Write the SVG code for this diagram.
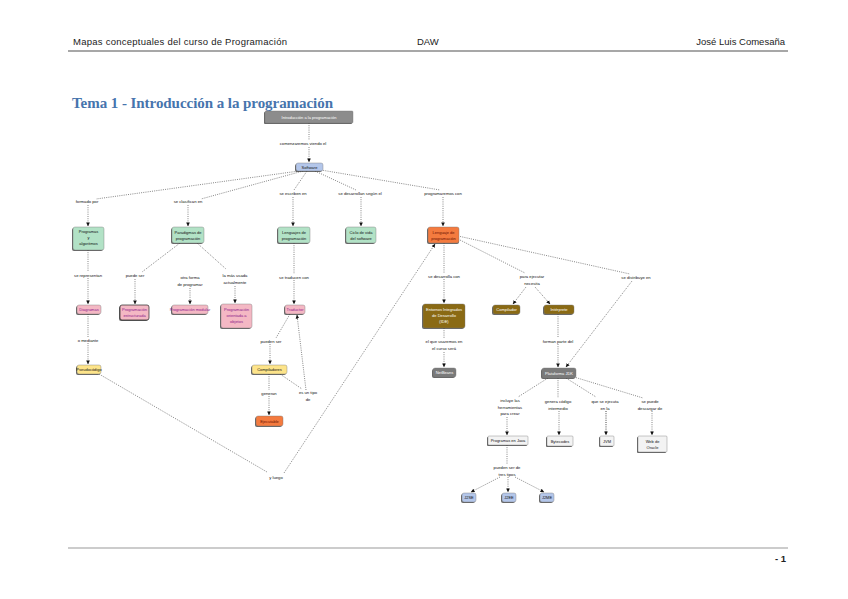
<svg xmlns="http://www.w3.org/2000/svg" width="848" height="599" viewBox="0 0 848 599">
<defs>
<marker id="a" markerWidth="4" markerHeight="4" refX="3.6" refY="2" orient="auto" markerUnits="userSpaceOnUse"><path d="M0,0.2 L4,2 L0,3.8z" fill="#111"/></marker>
<style>
.hd{font-family:"Liberation Sans",Arial,sans-serif;font-size:9.5px;fill:#222}
.tt{font-family:"Liberation Serif","Times New Roman",serif;font-size:15px;font-weight:bold;fill:#4674ad}
.sh{fill:#333;opacity:.75}
.n{stroke:#777;stroke-width:.4}
.gr{fill:#8c8c8c}.bl{fill:#b3c6ea}.gn{fill:#b2e2c6}.pk{fill:#f4b8c4}.yl{fill:#fde48a}.or{fill:#f47b3f}.br{fill:#8a6a14}.dg{fill:#7a7a7a}.wh{fill:#f3f3f3}
.t{font-family:"Liberation Sans",Arial,sans-serif;font-size:4px;text-anchor:middle;fill:#111}
.tw{fill:#fff}.tp{fill:#8b1a8b}.tr{fill:#6a1000}
.lb{font-family:"Liberation Sans",Arial,sans-serif;font-size:4.2px;text-anchor:middle;fill:#111}
.c line{stroke:#444;stroke-width:.65;stroke-dasharray:1 1.2;fill:none}
.c .ar{marker-end:url(#a)}
</style>
</defs>
<rect width="848" height="599" fill="#fff"/>
<g id="header">
<text class="hd" x="73" y="45" textLength="214">Mapas conceptuales del curso de Programación</text>
<text class="hd" x="417" y="45">DAW</text>
<text class="hd" x="785" y="45" text-anchor="end">José Luis Comesaña</text>
<line x1="68" y1="51" x2="788" y2="51" stroke="#8a8a8a" stroke-width="1.6"/>
</g>
<g id="footer">
<line x1="68" y1="548" x2="788" y2="548" stroke="#9a9a9a" stroke-width="1.2"/>
<text class="hd" x="786" y="562" text-anchor="end" font-weight="bold">- 1</text>
</g>
<text class="tt" x="72" y="108" textLength="261">Tema 1 - Introducción a la programación</text>

<g id="connectors" class="c">
<line x1="309" y1="123" x2="309" y2="140"/>
<line class="ar" x1="309" y1="147" x2="309" y2="162"/>
<line x1="299" y1="171" x2="96" y2="199"/>
<line x1="303" y1="171" x2="201" y2="199"/>
<line x1="307" y1="171" x2="294" y2="190"/>
<line x1="315" y1="171" x2="356" y2="190"/>
<line x1="321" y1="170" x2="440" y2="190"/>
<line class="ar" x1="88" y1="205" x2="88" y2="226"/>
<line class="ar" x1="188" y1="205" x2="188" y2="226"/>
<line class="ar" x1="293" y1="197" x2="293" y2="226"/>
<line class="ar" x1="361" y1="197" x2="361" y2="226"/>
<line class="ar" x1="443" y1="197" x2="443" y2="226"/>
<line x1="88" y1="250" x2="88" y2="272"/>
<line class="ar" x1="88" y1="278" x2="88" y2="304"/>
<line x1="88" y1="314" x2="88" y2="337"/>
<line class="ar" x1="88" y1="343" x2="88" y2="364"/>
<line x1="180" y1="243" x2="142" y2="272"/>
<line x1="197" y1="243" x2="226" y2="269"/>
<line class="ar" x1="135" y1="279" x2="135" y2="304"/>
<line class="ar" x1="190" y1="288" x2="190" y2="304"/>
<line class="ar" x1="235" y1="286" x2="235" y2="303"/>
<line x1="294" y1="243" x2="294" y2="274"/>
<line class="ar" x1="294" y1="280" x2="294" y2="304"/>
<line x1="290" y1="314" x2="276" y2="338"/>
<line class="ar" x1="270" y1="344" x2="270" y2="364"/>
<line x1="269" y1="374" x2="269" y2="390"/>
<line class="ar" x1="269" y1="396" x2="269" y2="415"/>
<line x1="280" y1="374" x2="302" y2="389"/>
<line class="ar" x1="306" y1="390" x2="297" y2="315"/>
<line x1="99" y1="374" x2="267" y2="472"/>
<line class="ar" x1="284" y1="473" x2="435" y2="244"/>
<line x1="444" y1="243" x2="444" y2="273"/>
<line class="ar" x1="444" y1="279" x2="444" y2="303"/>
<line x1="444" y1="328" x2="444" y2="339"/>
<line class="ar" x1="444" y1="352" x2="444" y2="367"/>
<line x1="458" y1="239" x2="525" y2="273"/>
<line class="ar" x1="526" y1="287" x2="513" y2="304"/>
<line class="ar" x1="535" y1="287" x2="550" y2="304"/>
<line x1="458" y1="236" x2="630" y2="274"/>
<line class="ar" x1="632" y1="281" x2="566" y2="367"/>
<line x1="558" y1="314" x2="558" y2="338"/>
<line class="ar" x1="558" y1="344" x2="558" y2="367"/>
<line x1="548" y1="378" x2="518" y2="397"/>
<line x1="558" y1="378" x2="558" y2="398"/>
<line x1="566" y1="378" x2="596" y2="397"/>
<line x1="574" y1="377" x2="643" y2="398"/>
<line class="ar" x1="507" y1="417" x2="507" y2="435"/>
<line class="ar" x1="559" y1="411" x2="559" y2="435"/>
<line class="ar" x1="606" y1="411" x2="606" y2="435" style="stroke-width:1"/>
<line class="ar" x1="652" y1="411" x2="652" y2="435"/>
<line x1="507" y1="445" x2="507" y2="464"/>
<line class="ar" x1="500" y1="477" x2="471" y2="492"/>
<line class="ar" x1="508" y1="477" x2="508" y2="492"/>
<line class="ar" x1="515" y1="477" x2="544" y2="492"/>
</g>

<g id="labels">
<text class="lb" x="303" y="145">comenzaremos viendo el</text>
<text class="lb" x="87" y="203">formado por</text>
<text class="lb" x="188" y="203">se clasifican en</text>
<text class="lb" x="293" y="195">se escriben en</text>
<text class="lb" x="360" y="195">se desarrollan según el</text>
<text class="lb" x="443" y="195">programaremos con</text>
<text class="lb" x="88" y="277">se representan</text>
<text class="lb" x="88" y="342">o mediante</text>
<text class="lb" x="135" y="277">puede ser</text>
<text class="lb" x="190" y="279">otra forma<tspan x="190" dy="7">de programar</tspan></text>
<text class="lb" x="235" y="277">la más usada<tspan x="235" dy="7">actualmente</tspan></text>
<text class="lb" x="294" y="279">se traducen con</text>
<text class="lb" x="271" y="343">pueden ser</text>
<text class="lb" x="269" y="395">generan</text>
<text class="lb" x="308" y="394">es un tipo<tspan x="308" dy="7">de</tspan></text>
<text class="lb" x="276" y="479">y luego</text>
<text class="lb" x="444" y="278">se desarrolla con</text>
<text class="lb" x="444" y="343">el que usaremos en<tspan x="444" dy="7">el curso será</tspan></text>
<text class="lb" x="532" y="278">para ejecutar<tspan x="532" dy="7">necesita</tspan></text>
<text class="lb" x="636" y="279">se distribuye en</text>
<text class="lb" x="558" y="343">forman parte del</text>
<text class="lb" x="510" y="402">incluye las<tspan x="510" dy="6.5">herramientas</tspan><tspan x="510" dy="6.5">para crear</tspan></text>
<text class="lb" x="558" y="403">genera código<tspan x="558" dy="7">intermedio</tspan></text>
<text class="lb" x="605" y="403">que se ejecuta<tspan x="605" dy="7">en la</tspan></text>
<text class="lb" x="650" y="403">se puede<tspan x="650" dy="7">descargar de</tspan></text>
<text class="lb" x="507" y="469">pueden ser de<tspan x="507" dy="7">tres tipos</tspan></text>
</g>

<g id="n-intro"><rect class="sh" x="264" y="112" width="88" height="12" rx="1"/><rect class="n gr" x="265" y="111" width="88" height="12" rx="1"/><text class="t tw" x="309" y="118.5">Introducción a la programación</text></g>
<g id="n-software"><rect class="sh" x="295" y="164" width="27" height="8" rx="2"/><rect class="n bl" x="296" y="163" width="27" height="8" rx="2"/><text class="t" x="309.5" y="168.5">Software</text></g>
<g id="n-programas"><rect class="sh" x="72" y="228" width="31" height="23" rx="2"/><rect class="n gn" x="73" y="227" width="31" height="23" rx="2"/><text class="t" x="88.5" y="233">Programas<tspan x="88.5" dy="6">y</tspan><tspan x="88.5" dy="6">algoritmos</tspan></text></g>
<g id="n-paradigmas"><rect class="sh" x="171" y="228" width="32" height="16" rx="2"/><rect class="n gn" x="172" y="227" width="32" height="16" rx="2"/><text class="t" x="188" y="233.5">Paradigmas de<tspan x="188" dy="6">programación</tspan></text></g>
<g id="n-lenguajes"><rect class="sh" x="277" y="228" width="32" height="16" rx="2"/><rect class="n gn" x="278" y="227" width="32" height="16" rx="2"/><text class="t" x="294" y="233.5">Lenguajes de<tspan x="294" dy="6">programación</tspan></text></g>
<g id="n-ciclo"><rect class="sh" x="345" y="228" width="30" height="16" rx="2"/><rect class="n gn" x="346" y="227" width="30" height="16" rx="2"/><text class="t" x="361" y="233.5">Ciclo de vida<tspan x="361" dy="6">del software</tspan></text></g>
<g id="n-java"><rect class="sh" x="427" y="228" width="32" height="16" rx="2"/><rect class="n or" x="428" y="227" width="31" height="16" rx="2"/><text class="t tr" x="443.5" y="233.5">Lenguaje de<tspan x="443.5" dy="6">programación</tspan></text></g>

<g id="n-diagramas"><rect class="sh" x="76" y="306" width="24" height="9" rx="2"/><rect class="n pk" x="77" y="305" width="24" height="9" rx="2"/><text class="t tp" x="89" y="311">Diagramas</text></g>
<g id="n-estructurada"><rect class="sh" x="119" y="306" width="29" height="15" rx="2"/><rect class="n pk" x="120" y="305" width="29" height="15" rx="2" style="stroke:#222;stroke-width:.7"/><text class="t tp" x="134.5" y="311">Programación<tspan x="134.5" dy="6">estructurada</tspan></text></g>
<g id="n-modular"><rect class="sh" x="171" y="306" width="36" height="9" rx="2"/><rect class="n pk" x="172" y="305" width="36" height="9" rx="2"/><text class="t tp" x="190" y="311">Programación modular</text></g>
<g id="n-poo"><rect class="sh" x="220" y="305" width="31" height="24" rx="2"/><rect class="n pk" x="221" y="304" width="31" height="24" rx="2"/><text class="t tp" x="236.5" y="311">Programación<tspan x="236.5" dy="6">orientada a</tspan><tspan x="236.5" dy="6">objetos</tspan></text></g>
<g id="n-traductor"><rect class="sh" x="284" y="306" width="20" height="9" rx="2"/><rect class="n pk" x="285" y="305" width="20" height="9" rx="2"/><text class="t tp" x="295" y="311">Traductor</text></g>

<g id="n-pseudo"><rect class="sh" x="76" y="366" width="24" height="9" rx="2"/><rect class="n yl" x="77" y="365" width="24" height="9" rx="2"/><text class="t" x="89" y="371">Pseudocódigo</text></g>
<g id="n-compiladores"><rect class="sh" x="251" y="366" width="35" height="9" rx="2"/><rect class="n yl" x="252" y="365" width="35" height="9" rx="2"/><text class="t" x="269.5" y="371">Compiladores</text></g>
<g id="n-ejecutable"><rect class="sh" x="255" y="417" width="27" height="10" rx="2"/><rect class="n or" x="256" y="416" width="27" height="10" rx="2"/><text class="t tr" x="269.5" y="422.5">Ejecutable</text></g>

<g id="n-ide"><rect class="sh" x="422" y="305" width="42" height="24" rx="2"/><rect class="n br" x="423" y="304" width="42" height="24" rx="2"/><text class="t tw" x="444" y="311">Entornos Integrados<tspan x="444" dy="6">de Desarrollo</tspan><tspan x="444" dy="6">(IDE)</tspan></text></g>
<g id="n-compilador"><rect class="sh" x="492" y="306" width="27" height="9" rx="2"/><rect class="n br" x="493" y="305" width="27" height="9" rx="2"/><text class="t tw" x="506.5" y="311">Compilador</text></g>
<g id="n-interprete"><rect class="sh" x="543" y="306" width="30" height="9" rx="2"/><rect class="n br" x="544" y="305" width="30" height="9" rx="2"/><text class="t tw" x="559" y="311">Intérprete</text></g>
<g id="n-netbeans"><rect class="sh" x="432" y="369" width="23" height="9" rx="2"/><rect class="n dg" x="433" y="368" width="23" height="9" rx="2"/><text class="t tw" x="444.5" y="374">NetBeans</text></g>
<g id="n-jdk"><rect class="sh" x="541" y="369" width="34" height="10" rx="2"/><rect class="n dg" x="542" y="368" width="34" height="10" rx="2"/><text class="t tw" x="559" y="374.5">Plataforma JDK</text></g>

<g id="n-progjava"><rect class="sh" x="487" y="437" width="40" height="9" rx="1"/><rect class="n wh" x="488" y="436" width="40" height="9" rx="1"/><text class="t" x="508" y="442">Programas en Java</text></g>
<g id="n-bytecodes"><rect class="sh" x="546" y="437" width="26" height="10" rx="1"/><rect class="n wh" x="547" y="436" width="26" height="10" rx="1"/><text class="t" x="560" y="442.5">Bytecodes</text></g>
<g id="n-jvm"><rect class="sh" x="599" y="437" width="14" height="10" rx="1"/><rect class="n wh" x="600" y="436" width="14" height="10" rx="1"/><text class="t" x="607" y="442.5">JVM</text></g>
<g id="n-oracle"><rect class="sh" x="637" y="437" width="29" height="16" rx="1"/><rect class="n wh" x="638" y="436" width="29" height="16" rx="1"/><text class="t" x="652.5" y="442.5">Web de<tspan x="652.5" dy="6">Oracle</tspan></text></g>

<g id="n-j2se"><rect class="sh" x="461" y="494" width="14" height="9" rx="2"/><rect class="n bl" x="462" y="493" width="14" height="9" rx="2"/><text class="t" x="469" y="499">J2SE</text></g>
<g id="n-j2ee"><rect class="sh" x="501" y="494" width="14" height="9" rx="2"/><rect class="n bl" x="502" y="493" width="14" height="9" rx="2"/><text class="t" x="509" y="499">J2EE</text></g>
<g id="n-j2me"><rect class="sh" x="539" y="494" width="14" height="9" rx="2"/><rect class="n bl" x="540" y="493" width="14" height="9" rx="2"/><text class="t" x="547" y="499">J2ME</text></g>
</svg>
